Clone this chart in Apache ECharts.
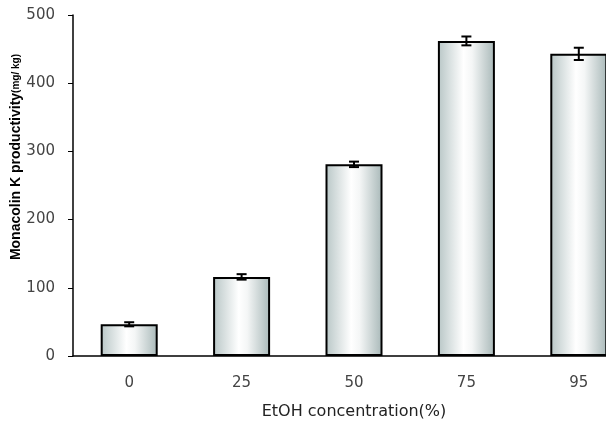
<!DOCTYPE html>
<html><head><meta charset="utf-8">
<script src="https://cdn.jsdelivr.net/npm/echarts@6/dist/echarts.min.js"></script>
<style>html,body{margin:0;padding:0;background:#fff}#c{width:606px;height:423px}</style>
</head><body><div id="c"></div>
<script>
const categories = ['0', '25', '50', '75', '95'];
const values = [46.5, 116, 281, 462, 443];
const errors = [3, 4, 4, 6.5, 9];
const yTicks = [0, 100, 200, 300, 400, 500];

const chart = echarts.init(document.getElementById('c'), null, {renderer: 'canvas'});
const grad = new echarts.graphic.LinearGradient(0, 0, 1, 0, [
  {offset: 0, color: '#b8c6c6'},
  {offset: 0.45, color: '#ffffff'},
  {offset: 0.6, color: '#f4f6f6'},
  {offset: 1, color: '#a8b8b8'}
]);
const font = 'Arial, "Liberation Sans", sans-serif';
const tickFont = '"DejaVu Sans", sans-serif';
chart.setOption({
  animation: false,
  grid: {left: 73, right: -29, top: 15, bottom: 67, containLabel: false, outerBoundsMode: 'none'},
  xAxis: {
    type: 'category', data: categories,
    axisLine: {lineStyle: {color: '#000', width: 1.5}},
    axisTick: {show: false},
    axisLabel: {color: '#444', fontSize: 15, fontFamily: tickFont, margin: 20},
    name: 'EtOH concentration(%)', nameLocation: 'middle', nameGap: 48,
    nameTextStyle: {color: '#222', fontSize: 16, fontFamily: tickFont}
  },
  yAxis: {
    type: 'value', min: 0, max: 500, interval: 100,
    axisLine: {show: true, lineStyle: {color: '#000', width: 1.5}},
    axisTick: {show: true, inside: false, length: 5, lineStyle: {color: '#000'}},
    splitLine: {show: false},
    axisLabel: {color: '#444', fontSize: 15, fontFamily: tickFont, margin: 18,
      formatter: v => yTicks.includes(v) ? String(v) : ''}
  },
  graphic: [{
    type: 'text', left: 9, top: 54, rotation: Math.PI / 2,
    style: {
      text: '{a|Monacolin K productivity}{b|(mg/ kg)}',
      rich: {
        a: {fontSize: 14, fontWeight: 'bold', fontFamily: font, fill: '#000'},
        b: {fontSize: 10, fontWeight: 'bold', fontFamily: font, fill: '#000'}
      }
    }
  }],
  series: [{
    type: 'bar', data: values, barWidth: 57,
    itemStyle: {color: grad, borderColor: '#000', borderWidth: 2}
  }, {
    type: 'custom',
    data: values.map((v, i) => [i, v - errors[i], v + errors[i]]),
    renderItem: function (params, api) {
      const lo = api.coord([api.value(0), api.value(1)]);
      const hi = api.coord([api.value(0), api.value(2)]);
      const x = lo[0], hw = 5;
      const st = {stroke: '#000', lineWidth: 2};
      return {type: 'group', children: [
        {type: 'line', shape: {x1: x, y1: lo[1], x2: x, y2: hi[1]}, style: st},
        {type: 'line', shape: {x1: x - hw, y1: lo[1], x2: x + hw, y2: lo[1]}, style: st},
        {type: 'line', shape: {x1: x - hw, y1: hi[1], x2: x + hw, y2: hi[1]}, style: st}
      ]};
    },
    z: 10
  }]
});
</script></body></html>
